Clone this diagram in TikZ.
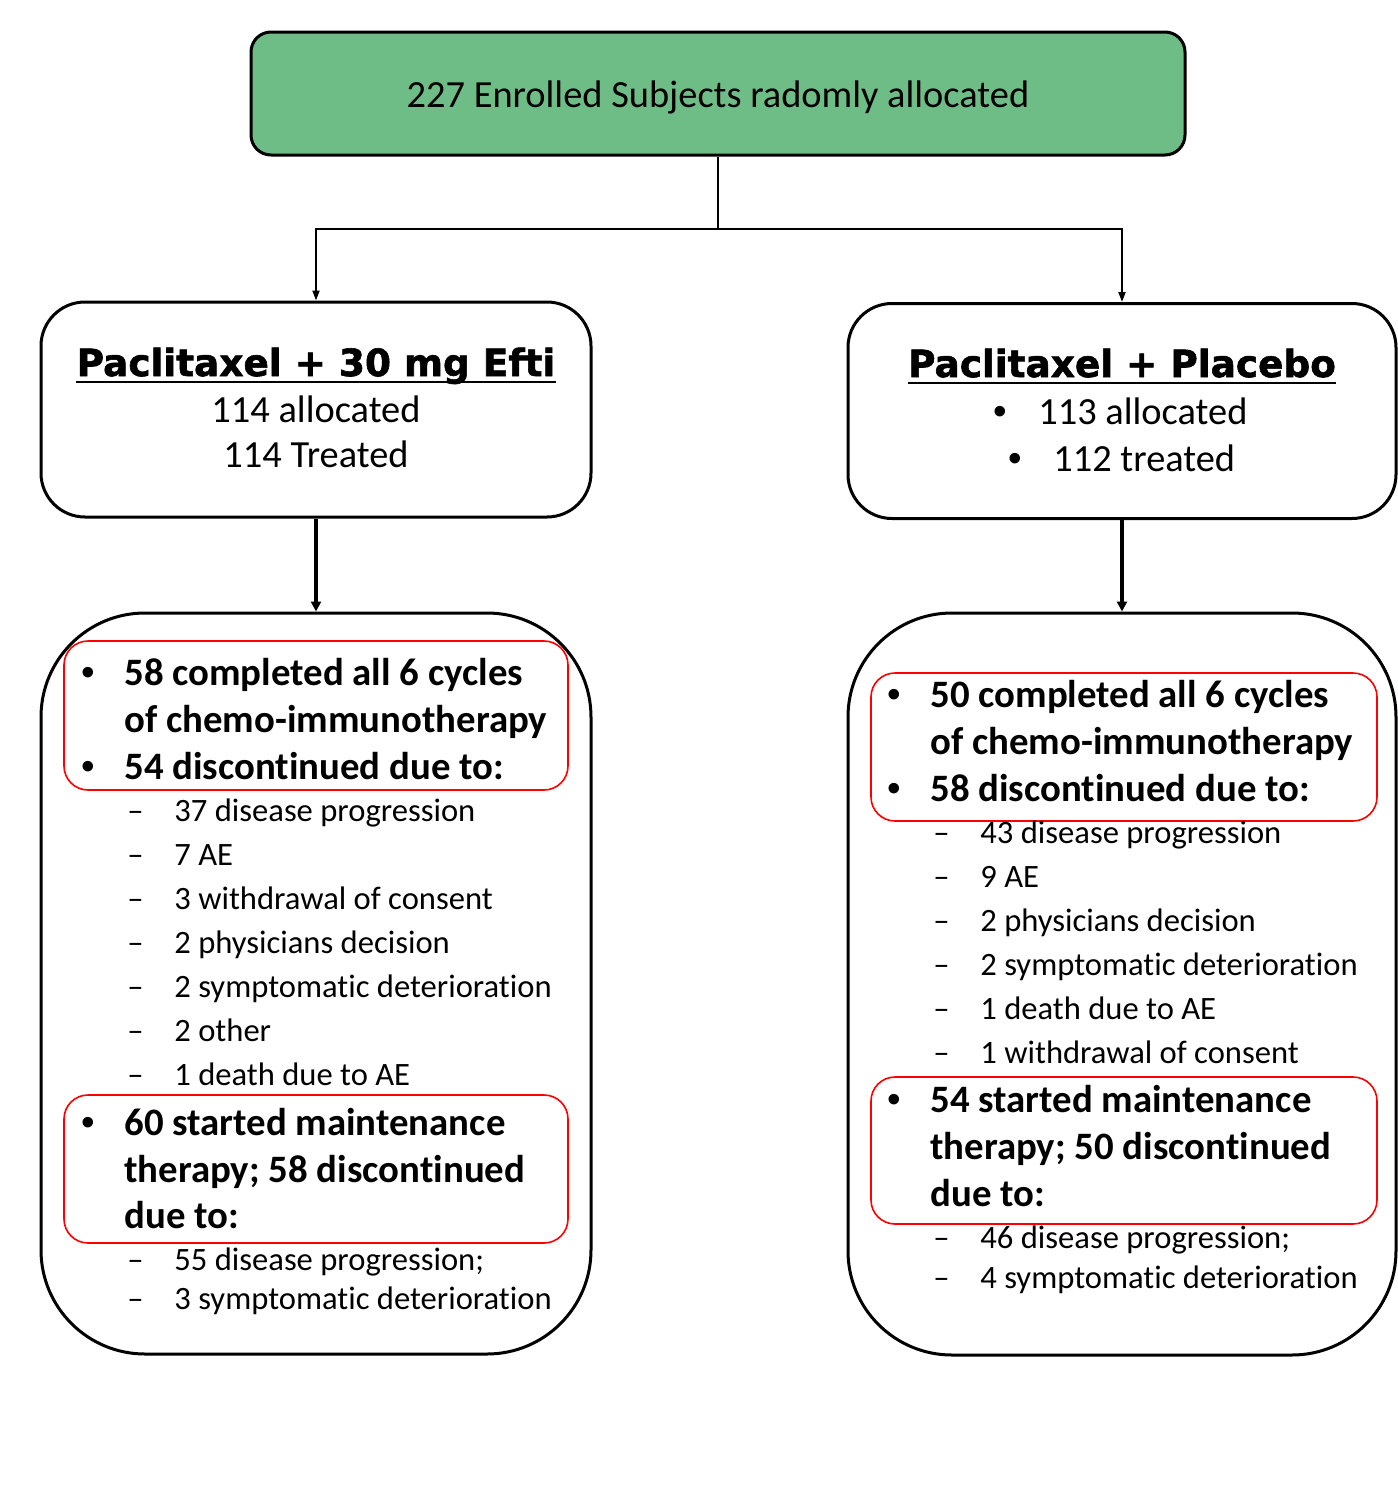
\documentclass[tikz,border=0pt]{standalone}
\usepackage{fontspec}
\setmainfont{Carlito}[Ligatures=NoCommon]
\newfontfamily\headfont{DejaVu Sans}[BoldFeatures={FakeBold=1.6}]
\newfontfamily\dotfont{Liberation Sans}
\usepackage{tikz}
\usetikzlibrary{arrows.meta}

\definecolor{enrolgreen}{RGB}{111,189,134}

\tikzset{
  box/.style={draw, line width=1.5pt, rounded corners=22pt,
    minimum width=275pt, minimum height=107.5pt},
  bigbox/.style={box, rounded corners=52pt, minimum height=370.5pt},
  redbox/.style={draw=red, line width=0.8pt, rounded corners=12pt,
    minimum width=252pt, minimum height=74.5pt},
  link/.style={line width=1pt, -{Triangle[length=5pt, width=3.5pt]}},
  heavylink/.style={line width=1.6pt, -{Triangle[length=5pt, width=5pt]}},
  head/.style={anchor=base, inner sep=0pt, font=\headfont\bfseries\fontsize{18.7}{22}\selectfont},
  line/.style={anchor=base, inner sep=0pt, font=\fontsize{19.2}{23}\selectfont},
  item/.style={anchor=base west, inner sep=0pt, font=\fontsize{19.4}{23}\selectfont\bfseries},
  sub/.style={anchor=base west, inner sep=0pt, font=\fontsize{16.3}{20}\selectfont},
  dot/.style={anchor=base, inner sep=0pt, font=\dotfont\fontsize{19.4}{23}\selectfont},
}

\begin{document}
\begin{tikzpicture}[x=0.5pt, y=-0.5pt]
    \useasboundingbox (0,0) rectangle (1398,1500);

    % enrolment
    \node[draw, line width=1.5pt, fill=enrolgreen, rounded corners=10pt,
      minimum width=467pt, minimum height=61.5pt] (enrol) at (718,93.5) {};
    \node[line] (enroltext) at (718,107) {227 Enrolled Subjects radomly allocated};

    % arms
    \node[box] (efti) at (316,409.5) {};
    \node[box, minimum width=274pt] (plac) at (1122,411) {};

    \coordinate (split) at (718,229);
    \draw[line width=1pt] (enrol.south) -- (split);
    \draw[link] (split) -| (efti.north);
    \draw[link] (split) -| (plac.north);

    % arm headings
    \node[head] (eftihead) at (316,376) {Paclitaxel + 30 mg Efti};
    \draw[line width=1.4pt] ([yshift=-3pt]eftihead.base west) -- ([yshift=-3pt]eftihead.base east);
    \node[line] (eftialloc) at (316,422) {114 allocated};
    \node[line] (eftitreat) at (316,467) {114 Treated};

    \node[head] (plachead) at (1122,377) {Paclitaxel + Placebo};
    \draw[line width=1.4pt] ([yshift=-3pt]plachead.base west) -- ([yshift=-3pt]plachead.base east);
    \node[dot] (placdot1) at (1000,424) {•};
    \node[line, anchor=base west] (placalloc) at (1038,424) {113 allocated};
    \node[dot] (placdot2) at (1015,471) {•};
    \node[line, anchor=base west] (plactreat) at (1053,471) {112 treated};

    % outcome boxes
    \node[bigbox] (eftiout) at (316,983.5) {};
    \node[bigbox, minimum width=274pt, minimum height=371pt] (placout) at (1122,984) {};
    \draw[heavylink] (efti.south) -- (eftiout.north);
    \draw[heavylink] (plac.south) -- (placout.north);

    % left outcomes
    \node[redbox] (eftired1) at (316,715.5) {};
    \node[dot] (ed1) at (88,685) {•};
    \node[item] (ei1) at (124,685) {58 completed all 6 cycles};
    \node[item] (ei2) at (124,732) {of chemo-immunotherapy};
    \node[dot] (ed2) at (88,779) {•};
    \node[item] (ei3) at (124,779) {54 discontinued due to:};

    \node[sub] (es1) at (127,821) {–}; \node[sub] (et1) at (174,821) {37 disease progression};
    \node[sub] (es2) at (127,865) {–}; \node[sub] (et2) at (174,865) {7 AE};
    \node[sub] (es3) at (127,909) {–}; \node[sub] (et3) at (174,909) {3 withdrawal of consent};
    \node[sub] (es4) at (127,953) {–}; \node[sub] (et4) at (174,953) {2 physicians decision};
    \node[sub] (es5) at (127,997) {–}; \node[sub] (et5) at (174,997) {2 symptomatic deterioration};
    \node[sub] (es6) at (127,1041) {–}; \node[sub] (et6) at (174,1041) {2 other};
    \node[sub] (es7) at (127,1085) {–}; \node[sub] (et7) at (174,1085) {1 death due to AE};

    \node[redbox, minimum height=74pt] (eftired2) at (316,1169) {};
    \node[dot] (ed3) at (88,1135) {•};
    \node[item] (ei4) at (124,1135) {60 started maintenance};
    \node[item] (ei5) at (124,1182) {therapy; 58 discontinued};
    \node[item] (ei6) at (124,1228) {due to:};
    \node[sub] (es8) at (127,1270) {–}; \node[sub] (et8) at (174,1270) {55 disease progression;};
    \node[sub] (es9) at (127,1309) {–}; \node[sub] (et9) at (174,1309) {3 symptomatic deterioration};

    % right outcomes
    \node[redbox, minimum width=253pt, minimum height=74pt] (placred1) at (1124,747) {};
    \node[dot] (pd1) at (894,707) {•};
    \node[item] (pi1) at (930,707) {50 completed all 6 cycles};
    \node[item] (pi2) at (930,754) {of chemo-immunotherapy};
    \node[dot] (pd2) at (894,801) {•};
    \node[item] (pi3) at (930,801) {58 discontinued due to:};

    \node[sub] (ps1) at (933,843) {–}; \node[sub] (pt1) at (980,843) {43 disease progression};
    \node[sub] (ps2) at (933,887) {–}; \node[sub] (pt2) at (980,887) {9 AE};
    \node[sub] (ps3) at (933,931) {–}; \node[sub] (pt3) at (980,931) {2 physicians decision};
    \node[sub] (ps4) at (933,975) {–}; \node[sub] (pt4) at (980,975) {2 symptomatic deterioration};
    \node[sub] (ps5) at (933,1019) {–}; \node[sub] (pt5) at (980,1019) {1 death due to AE};
    \node[sub] (ps6) at (933,1063) {–}; \node[sub] (pt6) at (980,1063) {1 withdrawal of consent};

    \node[redbox, minimum width=253pt, minimum height=73.5pt] (placred2) at (1124,1150.5) {};
    \node[dot] (pd3) at (894,1112) {•};
    \node[item] (pi4) at (930,1112) {54 started maintenance};
    \node[item] (pi5) at (930,1159) {therapy; 50 discontinued};
    \node[item] (pi6) at (930,1206) {due to:};
    \node[sub] (ps7) at (933,1248) {–}; \node[sub] (pt7) at (980,1248) {46 disease progression;};
    \node[sub] (ps8) at (933,1288) {–}; \node[sub] (pt8) at (980,1288) {4 symptomatic deterioration};
\end{tikzpicture}
\end{document}
